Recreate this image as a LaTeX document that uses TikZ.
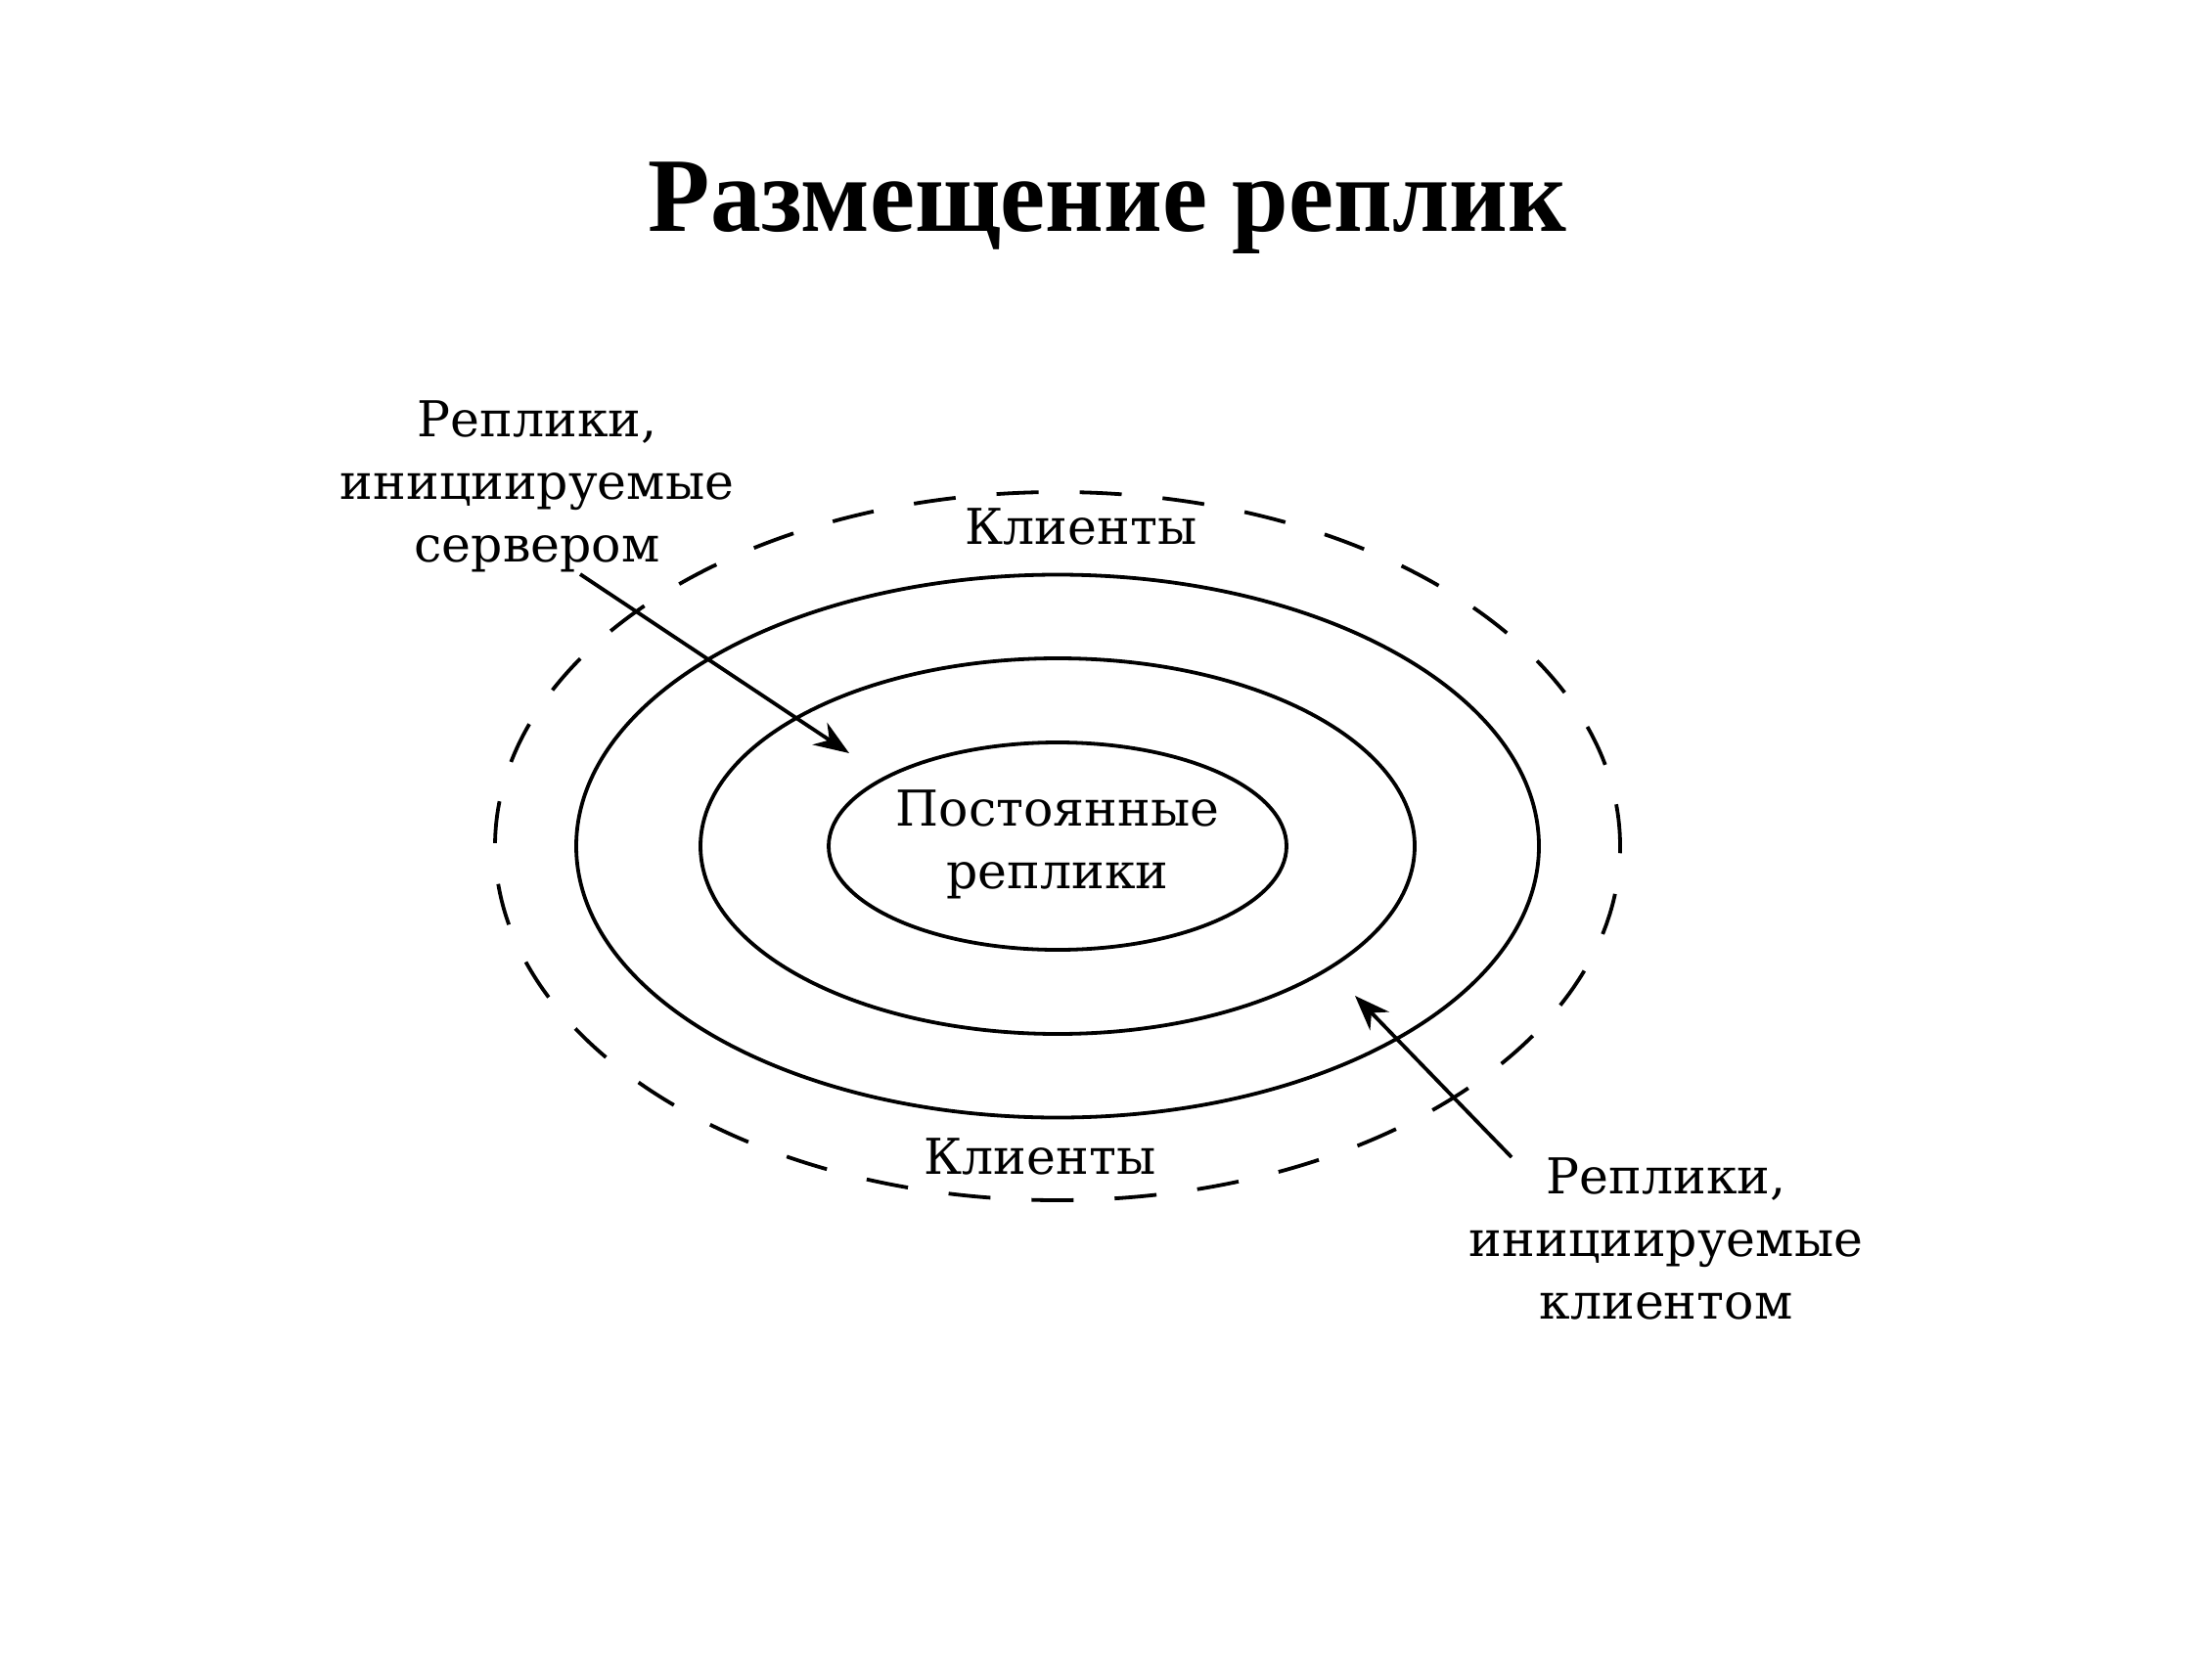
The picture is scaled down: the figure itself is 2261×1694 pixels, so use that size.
\documentclass[tikz,border=0pt]{standalone}
\usepackage{fontspec}
\setmainfont{DejaVu Serif}
\newfontfamily\titlefont{Liberation Serif}
\usetikzlibrary{shapes.geometric,arrows.meta}
\begin{document}
\begin{tikzpicture}[x=1pt,y=-1pt,
  ring/.style={ellipse, draw, line width=3.8pt, inner sep=0pt},
  lbl/.style={align=center, inner sep=0pt, font=\fontsize{50.5}{64}\selectfont},
  arr/.style={line width=3.8pt, -{Stealth[length=36pt,width=27pt]}}]
\useasboundingbox (0,0) rectangle (2261,1694);
\fill[white] (0,0) rectangle (2261,1694);
\node[font=\titlefont\bfseries\fontsize{108}{112}\selectfont, inner sep=0pt, xscale=0.96] (title) at (1132,213) {Размещение реплик};
\node[ring, dashed, dash pattern=on 43pt off 42pt, minimum width=1150pt, minimum height=724pt] (dash) at (1081,865) {};
\node[ring, minimum width=984pt, minimum height=555pt] (outer) at (1081,865) {};
\node[ring, minimum width=730pt, minimum height=384pt] (mid) at (1081,865) {};
\node[ring, minimum width=468pt, minimum height=212pt] (inner) at (1081,865) {};
\node[lbl] (perm) at (1081,863) {Постоянные\\реплики};
\node[lbl] (cltop) at (1105,538) {Клиенты};
\node[lbl] (clbot) at (1063,1182) {Клиенты};
\node[lbl] (srv) at (549,497) {Реплики,\\инициируемые\\сервером};
\node[lbl] (cli) at (1703,1266) {Реплики,\\инициируемые\\клиентом};
\coordinate (a1s) at (593,587);
\coordinate (a1e) at (868,770);
\coordinate (a2s) at (1545,1183);
\coordinate (a2e) at (1385,1018);
\draw[arr] (a1s) -- (a1e);
\draw[arr] (a2s) -- (a2e);
\end{tikzpicture}
\end{document}
